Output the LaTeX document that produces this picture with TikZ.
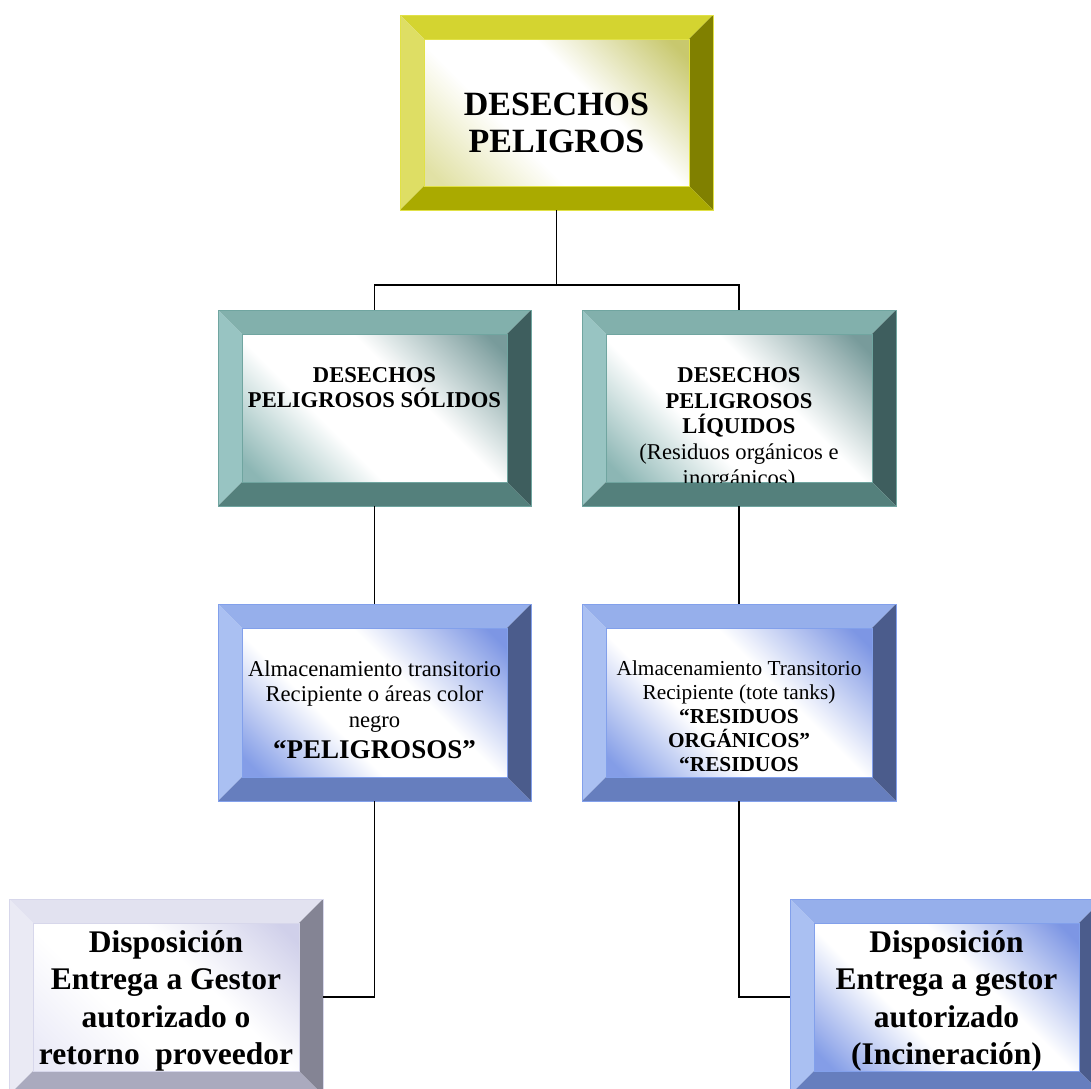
\documentclass[tikz,border=0pt]{standalone}
\usepackage{fontspec}
\setmainfont{Liberation Serif}
\usetikzlibrary{calc}
% yellow
\definecolor{yT}{RGB}{212,212,48}
\definecolor{yL}{RGB}{222,222,100}
\definecolor{yR}{RGB}{128,128,0}
\definecolor{yB}{RGB}{170,170,0}
\definecolor{yO}{RGB}{225,225,70}
\definecolor{yI1}{RGB}{200,200,110}
\definecolor{yI2}{RGB}{225,225,165}
% teal
\definecolor{tT}{RGB}{130,176,172}
\definecolor{tL}{RGB}{152,196,194}
\definecolor{tR}{RGB}{62,94,94}
\definecolor{tB}{RGB}{84,128,124}
\definecolor{tO}{RGB}{112,165,160}
\definecolor{tI1}{RGB}{120,155,155}
\definecolor{tI2}{RGB}{140,182,180}
% blue
\definecolor{bT}{RGB}{150,175,235}
\definecolor{bL}{RGB}{170,192,242}
\definecolor{bR}{RGB}{75,92,140}
\definecolor{bB}{RGB}{102,126,190}
\definecolor{bO}{RGB}{130,160,235}
\definecolor{bI1}{RGB}{125,150,228}
\definecolor{bI2}{RGB}{132,157,231}
% lavender
\definecolor{lT}{RGB}{226,226,240}
\definecolor{lL}{RGB}{234,234,244}
\definecolor{lR}{RGB}{132,132,148}
\definecolor{lB}{RGB}{170,170,190}
\definecolor{lO}{RGB}{215,215,235}
\definecolor{lI1}{RGB}{208,208,234}
\definecolor{lI2}{RGB}{234,234,247}

\pgfdeclarehorizontalshading{ysh}{100bp}{color(0bp)=(yI2); color(18bp)=(yI2); color(39bp)=(white); color(59bp)=(white); color(82bp)=(yI1); color(100bp)=(yI1)}
\pgfdeclarehorizontalshading{tsh}{100bp}{color(0bp)=(tI2); color(18bp)=(tI2); color(39bp)=(white); color(59bp)=(white); color(82bp)=(tI1); color(100bp)=(tI1)}
\pgfdeclarehorizontalshading{bsh}{100bp}{color(0bp)=(bI2); color(18bp)=(bI2); color(39bp)=(white); color(59bp)=(white); color(82bp)=(bI1); color(100bp)=(bI1)}
\pgfdeclarehorizontalshading{lsh}{100bp}{color(0bp)=(lI2); color(18bp)=(lI2); color(39bp)=(white); color(59bp)=(white); color(82bp)=(lI1); color(100bp)=(lI1)}

\newcommand{\bevbox}[6]{%
  \node[boxnode, minimum width={(#4-#2)*1pt}, minimum height={(#5-#3)*1pt}] (#1) at ({(#2+#4)/2},{(#3+#5)/2}) {};
  \shade[shading=#6sh, shading angle=45] ({#2+24},{#3+24}) rectangle ({#4-24},{#5-24});
  \fill[fill=#6T] (#2,#3) -- (#4,#3) -- ({#4-24},{#3+24}) -- ({#2+24},{#3+24}) -- cycle;
  \fill[fill=#6L] (#2,#3) -- ({#2+24},{#3+24}) -- ({#2+24},{#5-24}) -- (#2,#5) -- cycle;
  \fill[fill=#6R] (#4,#3) -- (#4,#5) -- ({#4-24},{#5-24}) -- ({#4-24},{#3+24}) -- cycle;
  \fill[fill=#6B] (#2,#5) -- (#4,#5) -- ({#4-24},{#5-24}) -- ({#2+24},{#5-24}) -- cycle;
  \draw[draw=#6O, line width=0.8pt] (#2,#3) rectangle (#4,#5);
  \draw[draw=#6O, line width=0.6pt] ({#2+24},{#3+24}) rectangle ({#4-24},{#5-24});
}

\begin{document}
\begin{tikzpicture}[x=1pt,y=-1pt,
  conn/.style={draw=black, line width=1.3pt},
  boxnode/.style={inner sep=0pt, outer sep=0pt, draw=none},
  txt/.style={inner sep=0pt, align=center, anchor=north}]
\useasboundingbox (0,0) rectangle (1091,1088);
\clip (0,0) rectangle (1091,1088);
\fill[white] (0,0) rectangle (1091,1088);

\bevbox{top}{400}{15}{713}{210}{y}
\bevbox{ml}{218}{310}{531}{506}{t}
\bevbox{mr}{582}{310}{896}{506}{t}
\bevbox{ll}{218}{604}{531}{801}{b}
\bevbox{lr}{582}{604}{896}{801}{b}
\bevbox{bl}{9}{899}{323}{1095}{l}
\bevbox{br}{790}{899}{1103}{1095}{b}

\begin{scope}
\clip (425,39) rectangle (688,186);
\node[txt, font=\fontsize{34}{37}\selectfont\bfseries] (toptxt) at (556.5,92.7) {DESECHOS\\PELIGROS};
\end{scope}
\begin{scope}
\clip (242,334) rectangle (507,482);
\node[txt, font=\fontsize{22.6}{25.5}\selectfont\bfseries] (mltxt) at (374.5,367.2) {DESECHOS\\PELIGROSOS SÓLIDOS};
\end{scope}
\begin{scope}
\clip (606,334) rectangle (872,482);
\node[txt, font=\fontsize{22.6}{25.75}\selectfont] (mrtxt) at (739,367.2) {\textbf{DESECHOS}\\\textbf{PELIGROSOS}\\\textbf{LÍQUIDOS}\\(Residuos orgánicos e\\inorgánicos)};
\end{scope}
\begin{scope}
\clip (242,628) rectangle (507,777);
\node[txt, font=\fontsize{22.6}{25.5}\selectfont] (lltxt) at (374.5,660.5) {Almacenamiento transitorio\\Recipiente o áreas color\\negro\\[5.5pt]{\fontsize{27}{31}\selectfont\bfseries “PELIGROSOS”}};
\end{scope}
\begin{scope}
\clip (606,628) rectangle (872,777);
\node[txt, font=\fontsize{21.3}{24}\selectfont] (lrtxt) at (739,660.5) {Almacenamiento Transitorio\\Recipiente (tote tanks)\\\textbf{“RESIDUOS}\\\textbf{ORGÁNICOS”}\\\textbf{“RESIDUOS}};
\end{scope}
\begin{scope}
\clip (33,923) rectangle (299,1071);
\node[txt, font=\fontsize{31.5}{37.5}\selectfont\bfseries] (bltxt) at (166,930) {Disposición\\Entrega a Gestor\\autorizado o\\retorno~~proveedor};
\end{scope}
\begin{scope}
\clip (814,923) rectangle (1079,1071);
\node[txt, font=\fontsize{31.5}{37.5}\selectfont\bfseries] (brtxt) at (946.5,930) {Disposición\\Entrega a gestor\\autorizado\\(Incineración)};
\end{scope}

\draw[conn] (top.south) -- ++(0,75) -| (ml.north);
\draw[conn] (top.south) -- ++(0,75) -| (mr.north);
\draw[conn] (ml.south) -- (ll.north);
\draw[conn] (mr.south) -- (lr.north);
\draw[conn] (ll.south) |- (bl.east);
\draw[conn] (lr.south) |- (br.west);
\end{tikzpicture}
\end{document}
